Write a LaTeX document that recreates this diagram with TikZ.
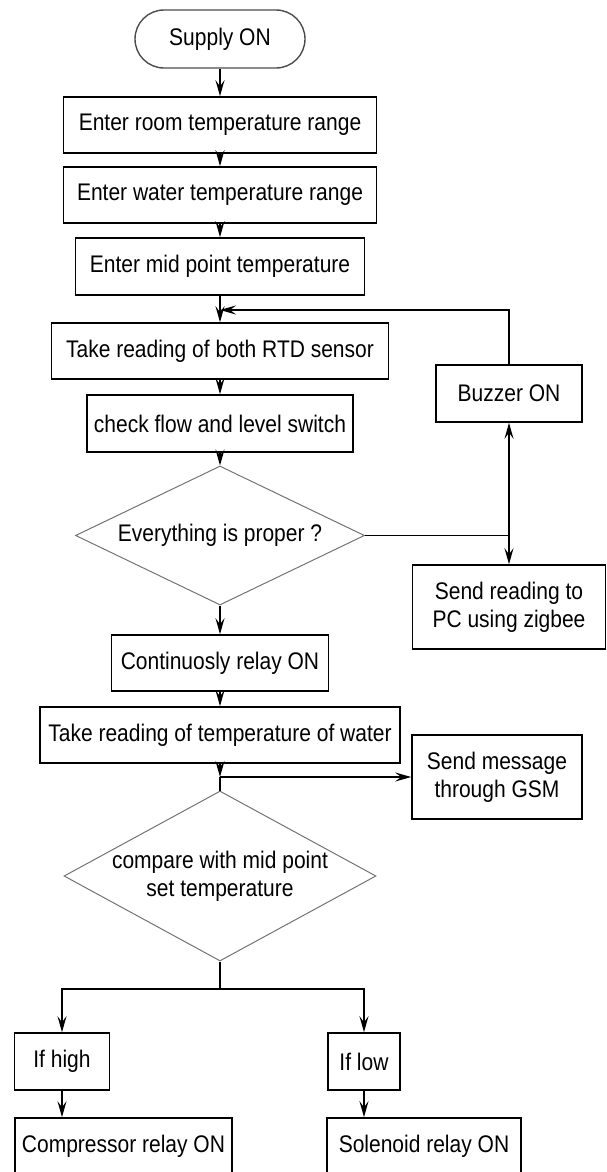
\documentclass[tikz,border=0pt]{standalone}
\usepackage{fontspec}
\setmainfont{Liberation Sans}[FakeStretch=0.875]
\usetikzlibrary{arrows.meta,shapes.geometric}
\tikzset{
 box/.style={draw, line width=1.6pt, minimum height=56pt, inner sep=0pt, align=center},
 pill/.style={draw=black!70, line width=1.4pt, rounded corners=29pt, inner sep=0pt, minimum width=170pt, minimum height=58pt},
 dia/.style={draw=black!55, line width=1pt, diamond, inner sep=0pt},
 lbl/.style={inner sep=0pt, align=center},
 arr/.style={line width=1.6pt, -{Stealth[length=16pt,width=9pt,inset=6pt]}},
 ln/.style={line width=1.6pt},
}
\begin{document}
\begin{tikzpicture}[x=1pt,y=-1pt, font=\fontsize{24}{28}\selectfont]
\useasboundingbox (0,0) rectangle (607,1172);
\clip (0,0) rectangle (607,1172);
% nodes
\node[pill] (supply) at (220,39) {Supply ON};
\node[box, minimum width=313pt] (room) at (220,125) {Enter room temperature range};
\node[box, minimum width=313pt] (water) at (220,195) {Enter water temperature range};
\node[box, minimum width=289pt, minimum height=57pt] (mid) at (220,266.5) {Enter mid point temperature};
\node[box, minimum width=337pt] (rtd) at (220,351) {Take reading of both RTD sensor};
\node[box, minimum width=266pt, minimum height=57pt] (flow) at (220,423.5) {check flow and level switch};
\node[dia, minimum width=289pt, minimum height=139pt] (d1) at (220,535.5) {};
\node[lbl] (d1t) at (220,535.5) {Everything is proper ?};
\node[box, minimum width=146pt, minimum height=57pt] (buzzer) at (509,393.5) {Buzzer ON};
\node[box, minimum width=193pt, minimum height=84pt] (zigbee) at (509,607) {Send reading to\\PC using zigbee};
\node[box, minimum width=217pt] (relay) at (220,663) {Continuosly relay ON};
\node[box, minimum width=360pt] (water2) at (220,735) {Take reading of temperature of water};
\node[box, minimum width=170pt, minimum height=84pt] (gsm) at (497,777) {Send message\\through GSM};
\node[dia, minimum width=312pt, minimum height=170pt] (d2) at (220,876) {};
\node[lbl] (d2t) at (220,876) {compare with mid point\\set temperature};
\node[box, minimum width=95pt, minimum height=57pt] (high) at (62,1061.5) {If high};
\node[box, minimum width=72pt, minimum height=57pt] (low) at (364,1061.5) {If low};
\node[box, minimum width=217pt, minimum height=57pt] (comp) at (123.5,1146.5) {Compressor relay ON};
\node[box, minimum width=194pt, minimum height=57pt] (sol) at (424,1146.5) {Solenoid relay ON};
% coordinates
\coordinate (fb) at (220,310);
\coordinate (j1) at (509,535.5);
\coordinate (j2) at (220,777);
\coordinate (j3) at (220,989);
% connectors
\draw[arr] (supply.south) -- (room.north);
\draw[arr] (room.south) -- (water.north);
\draw[arr] (water.south) -- (mid.north);
\draw[arr] (mid.south) -- (rtd.north);
\draw[arr] (buzzer.north) |- (fb);
\draw[arr] (rtd.south) -- (flow.north);
\draw[arr] (flow.south) -- (d1.north);
\draw[ln] (d1.east) -- (j1);
\draw[arr] (j1) -- (buzzer.south);
\draw[arr] (j1) -- (zigbee.north);
\draw[arr] (d1.south) -- (relay.north);
\draw[arr] (relay.south) -- (water2.north);
\draw[arr] (water2.south) -- (j2);
\draw[ln] (j2) -- (d2.north);
\draw[arr] (j2) -- (gsm.west);
\draw[ln] (d2.south) -- (j3);
\draw[arr] (j3) -| (high.north);
\draw[arr] (j3) -| (low.north);
\draw[arr] (high.south) -- (high.south |- comp.north);
\draw[arr] (low.south) -- (low.south |- sol.north);
\end{tikzpicture}
\end{document}
